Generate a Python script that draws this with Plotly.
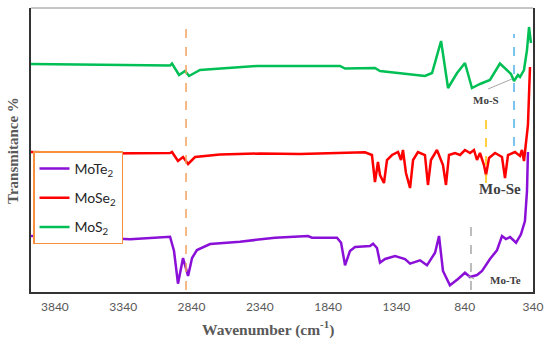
import plotly.graph_objects as go

# ---- data (wavenumber cm-1, offset transmittance in arbitrary units) ----
mos2_wn = [4015, 3510, 2997, 2983, 2931, 2887, 2858, 2778, 2485, 2360, 2229, 2046, 1753, 1716,
           1497, 1460, 1131, 1079, 1013, 962, 896, 838, 787, 728, 655, 582, 501, 479, 450, 435,
           406, 384, 369, 355]
mos2_t = [228, 227, 226.5, 228.5, 217, 221, 216, 222, 225, 226, 226, 226, 226, 223.5,
          224, 221, 216, 219, 251, 204, 219, 229, 204, 208, 212, 228.5, 218, 211, 217, 215,
          222, 242, 265, 249]

mose2_wn = [4015, 3510, 2997, 2983, 2939, 2902, 2865, 2814, 2631, 2338, 2046, 1753, 1570, 1519,
            1497, 1475, 1460, 1431, 1409, 1372, 1328, 1306, 1292, 1270, 1240, 1218, 1182, 1131,
            1109, 1087, 1043, 999, 977, 955, 911, 874, 838, 801, 772, 750, 728, 699, 684, 662,
            618, 567, 545, 523, 472, 435, 421, 406, 391, 377, 362]
mose2_t = [140, 138.5, 139, 140, 131, 135, 128, 135, 137.5, 138.5, 138, 139.5, 139.7, 137,
           110, 130, 117, 109, 132, 137, 140, 132, 142, 119, 104, 132, 140, 137,
           107, 132, 142, 127, 107, 137, 139, 137, 142, 139, 142, 132, 139, 127, 117, 134,
           139, 135, 114, 137, 140, 136, 142, 131, 152, 167, 225]

mote2_wn = [4015, 3802, 3290, 2997, 2968, 2939, 2902, 2865, 2836, 2800, 2704, 2485, 2229, 1987,
            1958, 1775, 1745, 1716, 1680, 1643, 1533, 1511, 1482, 1460, 1423, 1350, 1277, 1240,
            1167, 1116, 1057, 1028, 999, 948, 889, 838, 801, 750, 713, 655, 604, 567, 538, 508,
            464, 428, 399, 384, 377]
mote2_t = [56, 56, 52.7, 55.3, 41, 8.3, 34, 16, 34, 42, 48, 50.3, 54.3, 56,
           54.3, 54.3, 49.3, 26.7, 41, 45, 46, 48.3, 44, 29.3, 33, 36, 33, 28.3,
           31.7, 26.7, 39.3, 56, 21, 6.7, 13, 19.3, 15, 17, 21, 33, 41.7, 56, 53, 55,
           49.3, 57.7, 71, 101, 140]

x_ticks = [3840, 3340, 2840, 2340, 1840, 1340, 840, 340]

series = [
    ("MoTe<sub>2</sub>", mote2_wn, mote2_t, "#8A10D8"),
    ("MoSe<sub>2</sub>", mose2_wn, mose2_t, "#FF0000"),
    ("MoS<sub>2</sub>", mos2_wn, mos2_t, "#00BF55"),
]

fig = go.Figure()
for i, (name, xs, ys, col) in enumerate(series):
    fig.add_trace(go.Scatter(x=xs, y=ys, mode="lines", name=name, legendgroup=str(i),
                             line=dict(color=col, width=2.5)))

# dashed marker lines
dash_lines = [
    (2880, 2, 270, "#F4A15D"),
    (479, 146, 258, "#4FB3EA"),
    (684, 109, 174, "#FFC000"),
    (794, 2, 74, "#A6A6A6"),
]
for xv, y0, y1, col in dash_lines:
    fig.add_shape(type="line", xref="x", yref="y", x0=xv, x1=xv, y0=y0, y1=y1,
                  line=dict(color=col, width=1.5, dash="dash"))

# leader lines
fig.add_shape(type="line", xref="x", yref="y", x0=669, x1=494, y0=203, y1=213,
              line=dict(color="#A6A6A6", width=1))
fig.add_shape(type="line", xref="x", yref="y", x0=815, x1=770, y0=16, y1=13,
              line=dict(color="#A6A6A6", width=1))
# top border
fig.add_shape(type="line", xref="paper", yref="paper", x0=0, x1=1, y0=1, y1=1,
              line=dict(color="#8C8C8C", width=1))

serif = "Liberation Serif"
fig.add_annotation(x=684, y=192, text="<b>Mo-S</b>", showarrow=False,
                   font=dict(family=serif, size=11, color="#404040"))
fig.add_annotation(x=582, y=103, text="<b>Mo-Se</b>", showarrow=False,
                   font=dict(family=serif, size=15, color="#404040"))
fig.add_annotation(x=545, y=12, text="<b>Mo-Te</b>", showarrow=False,
                   font=dict(family=serif, size=11, color="#404040"))
# axis titles
fig.add_annotation(xref="paper", yref="paper", x=0.472, y=-0.127, yanchor="middle",
                   text="<b>Wavenumber (cm<sup>-1</sup>)</b>", showarrow=False,
                   font=dict(family=serif, size=15.5, color="#595959"))
fig.add_annotation(xref="paper", yref="paper", x=-0.036, y=0.5, xanchor="center",
                   yanchor="middle", textangle=-90,
                   text="<b>Transmitance %</b>", showarrow=False,
                   font=dict(family=serif, size=15, color="#595959"))

fig.update_layout(
    width=550, height=342,
    margin=dict(l=31, r=17, t=8, b=50),
    paper_bgcolor="white", plot_bgcolor="white",
    showlegend=True,
    legend=dict(x=0.004, y=0.495, xanchor="left", yanchor="top",
                bgcolor="white", bordercolor="#F7913F", borderwidth=1.5,
                font=dict(family="Lato", size=14, color="#262626"),
                tracegroupgap=8, traceorder="grouped", itemwidth=30),
    xaxis=dict(range=[4015, 340], tickvals=x_ticks, ticktext=[str(v) for v in x_ticks],
               showgrid=False, zeroline=False, showline=True, linecolor="#333333",
               linewidth=2, ticks="", ticklabelstandoff=3, automargin=False,
               tickfont=dict(family="Lato", size=12, color="#595959")),
    yaxis=dict(range=[0, 284], showticklabels=False, showgrid=False, zeroline=False,
               showline=True, mirror=True, linecolor="#333333", linewidth=2, ticks="",
               automargin=False),
)

fig.write_html("out.html", config={"displayModeBar": False},
               post_script="document.body.style.margin='0';")
